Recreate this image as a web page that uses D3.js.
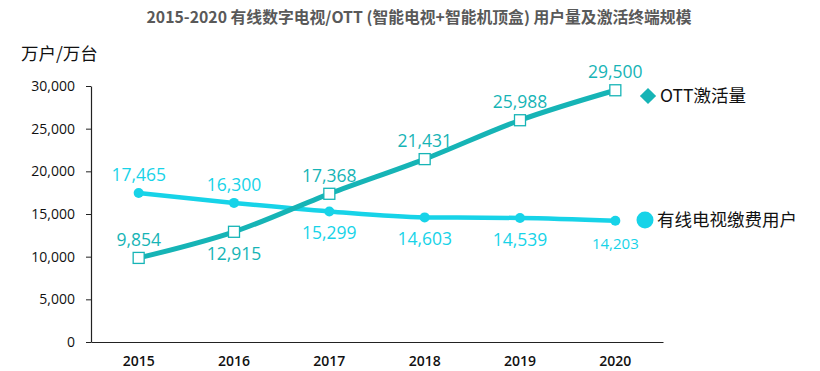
<html>
<head>
  <meta charset="utf-8">
  <title>有线数字电视/OTT</title>
  <style>
    body { margin: 0; background: #fff; font-family: "Open Sans", "Noto Sans CJK SC", sans-serif; }
  </style>
  <script src="https://d3js.org/d3.v7.min.js"></script>
</head>
<body>
  <div id="chart"></div>
  <script>
    // data
    var years = ["2015", "2016", "2017", "2018", "2019", "2020"];
    var ottValues = [9854, 12915, 17368, 21431, 25988, 29500];
    var cableValues = [17465, 16300, 15299, 14603, 14539, 14203];
    var yTicks = [0, 5000, 10000, 15000, 20000, 25000, 30000];
    var ottLabelPos = ["above", "below", "above", "above", "above", "above"];
    var cableLabelPos = ["above", "above", "below", "below", "below", "below"];

    var W = 820, H = 371;
    var ottColor = "#16b4b6", cableColor = "#17d3e8";
    var cjk = "'Noto Sans CJK SC', 'Noto Sans', sans-serif";

    var svg = d3.select("#chart").append("svg")
        .attr("width", W).attr("height", H);

    // scales
    var x = d3.scaleBand().domain(years).range([91, 663]);
    var y = d3.scaleLinear().domain([0, 30000]).range([342, 86]);
    var cx = function(d) { return x(d) + x.bandwidth() / 2; };

    // title
    svg.append("text")
        .attr("x", 419).attr("y", 23)
        .attr("text-anchor", "middle")
        .style("font-family", cjk).style("font-size", "15.8px").style("font-weight", "bold")
        .style("fill", "#595959")
        .text("2015-2020 有线数字电视/OTT (智能电视+智能机顶盒) 用户量及激活终端规模");

    // unit
    svg.append("text")
        .attr("x", 21).attr("y", 60)
        .style("font-family", cjk).style("font-size", "17.5px").style("fill", "#111")
        .text("万户/万台");

    // y axis
    var yAxis = svg.append("g")
        .attr("transform", "translate(91,0)")
        .call(d3.axisLeft(y).tickValues(yTicks).tickSize(5).tickSizeOuter(0)
            .tickFormat(d3.format(",")));
    yAxis.select(".domain").attr("stroke", "#222").attr("stroke-width", 1.2);
    yAxis.selectAll(".tick line").attr("stroke", "#222");
    yAxis.selectAll(".tick text")
        .attr("x", -16)
        .style("font-family", "'Open Sans', sans-serif").style("font-size", "14px").style("fill", "#111");

    // x axis
    var xAxis = svg.append("g")
        .attr("transform", "translate(0,342)")
        .call(d3.axisBottom(x).tickSize(0));
    xAxis.select(".domain").attr("stroke", "#222").attr("stroke-width", 1.2);
    xAxis.selectAll(".tick text")
        .attr("dy", "1.5em")
        .style("font-family", "'Open Sans', sans-serif").style("font-size", "14px")
        .style("font-weight", "600").style("fill", "#111");

    var line = d3.line().curve(d3.curveMonotoneX);

    function drawSeries(values, color, labelPos, isOtt) {
        var pts = values.map(function(v, i) { return [cx(years[i]), y(v)]; });
        svg.append("path")
            .attr("d", line(pts))
            .attr("fill", "none").attr("stroke", color).attr("stroke-width", isOtt ? 5 : 4.5);

        if (isOtt) {
            svg.selectAll(null).data(pts).enter().append("rect")
                .attr("x", function(p) { return p[0] - 5.5; })
                .attr("y", function(p) { return p[1] - 5.5; })
                .attr("width", 11).attr("height", 11)
                .attr("fill", "#fff").attr("stroke", color).attr("stroke-width", 1.3);
        } else {
            svg.selectAll(null).data(pts).enter().append("circle")
                .attr("cx", function(p) { return p[0]; })
                .attr("cy", function(p) { return p[1]; })
                .attr("r", 5).attr("fill", color);
        }

        svg.selectAll(null).data(values).enter().append("text")
            .attr("x", function(v, i) { return cx(years[i]); })
            .attr("y", function(v, i) {
                return labelPos[i] === "above" ? y(v) - 12 : y(v) + 28;
            })
            .attr("text-anchor", "middle")
            .style("font-family", "'Open Sans', sans-serif")
            .style("font-size", function(v, i) { return (!isOtt && i === 5) ? "15px" : "17.5px"; })
            .style("fill", color)
            .text(function(v) { return d3.format(",")(v); });
    }

    drawSeries(cableValues, cableColor, cableLabelPos, false);
    drawSeries(ottValues, ottColor, ottLabelPos, true);

    // legend
    svg.append("path")
        .attr("d", d3.symbol().type(d3.symbolSquare).size(132)())
        .attr("transform", "translate(648,96) rotate(45)")
        .attr("fill", ottColor);
    svg.append("text")
        .attr("x", 660).attr("y", 102)
        .style("font-family", cjk).style("font-size", "17.5px").style("fill", "#111")
        .text("OTT激活量");

    svg.append("circle")
        .attr("cx", 645).attr("cy", 220).attr("r", 8.5)
        .attr("fill", cableColor);
    svg.append("text")
        .attr("x", 657).attr("y", 226)
        .style("font-family", cjk).style("font-size", "17.5px").style("fill", "#111")
        .text("有线电视缴费用户");
  </script>
</body>
</html>
